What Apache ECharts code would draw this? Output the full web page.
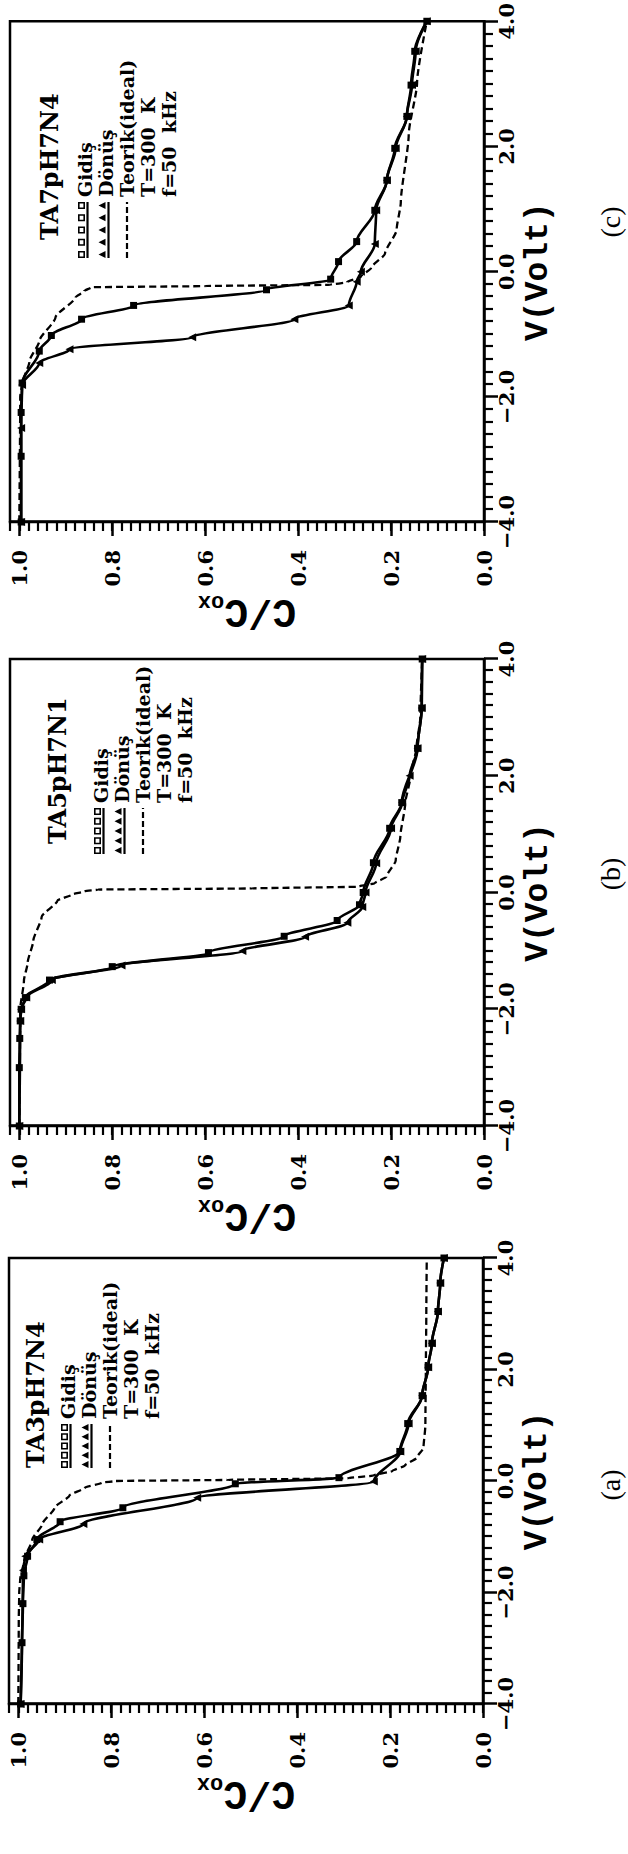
<!DOCTYPE html>
<html><head><meta charset="utf-8">
<script src="https://cdn.jsdelivr.net/npm/echarts@6/dist/echarts.min.js"></script>
<style>
html,body{margin:0;padding:0;background:#fff;overflow:hidden;width:628px;height:1854px;}
#wrap{position:absolute;left:0;top:0;width:1854px;height:628px;transform-origin:0 0;transform:translate(0,1854px) rotate(-90deg);}
#chart{width:1854px;height:628px;}
</style></head><body>
<div id="wrap"><div id="chart"></div></div>
<script>
// ---------------- data ----------------
const panelNames = ['TA3pH7N4', 'TA5pH7N1', 'TA7pH7N4'];
const panelTags = ['(a)', '(b)', '(c)'];
const seriesNames = ['Gidiş', 'Dönüş', 'Teorik(ideal)'];
const infoLines = ['T=300\u00a0 K', 'f=50\u00a0 kHz'];
const cTicks = [0, 0.2, 0.4, 0.6, 0.8, 1.0];

// panel (a) TA3pH7N4
const aGidisV = [-4.0, -2.9, -2.2, -1.7, -1.35, -1.05, -0.73, -0.48, -0.05, 0.06, 0.53, 1.03, 1.53, 2.04, 2.47, 3.04, 3.55, 4.0];
const aGidisC = [0.995, 0.992, 0.99, 0.988, 0.98, 0.96, 0.91, 0.775, 0.533, 0.31, 0.179, 0.162, 0.131, 0.118, 0.11, 0.097, 0.092, 0.084];
const aDonusV = [-4.0, -1.6, -1.35, -1.05, -0.77, -0.30, -0.01, 0.53, 1.03, 1.53, 2.04, 2.47, 3.04, 3.55, 4.0];
const aDonusC = [0.995, 0.99, 0.985, 0.955, 0.86, 0.615, 0.235, 0.178, 0.16, 0.131, 0.118, 0.11, 0.097, 0.092, 0.084];
const aIdealV = [-4.0, -2.5, -2.0, -1.77, -1.41, -1.05, -0.77, -0.48, -0.26, -0.12, -0.03, 0.0, 0.02, 0.05, 0.1, 0.18, 0.28, 0.42, 0.6, 1.0, 2.0, 3.0, 4.0];
const aIdealC = [1.0, 0.999, 0.998, 0.996, 0.987, 0.97, 0.948, 0.922, 0.89, 0.857, 0.82, 0.79, 0.55, 0.29, 0.235, 0.195, 0.168, 0.142, 0.128, 0.124, 0.123, 0.122, 0.121];

// panel (b) TA5pH7N1
const bGidisV = [-4.0, -3.0, -2.5, -2.2, -2.0, -1.8, -1.5, -1.27, -1.03, -0.75, -0.48, -0.21, 0.0, 0.51, 1.1, 1.54, 2.47, 3.16, 4.0];
const bGidisC = [1.0, 1.0, 0.999, 0.998, 0.996, 0.987, 0.935, 0.80, 0.593, 0.43, 0.316, 0.268, 0.26, 0.238, 0.203, 0.177, 0.143, 0.134, 0.133];
const bDonusV = [-4.0, -2.2, -2.0, -1.8, -1.5, -1.25, -1.0, -0.76, -0.52, -0.25, 0.0, 0.5, 1.1, 1.54, 2.0, 2.47, 3.16, 4.0];
const bDonusC = [1.0, 0.998, 0.996, 0.985, 0.93, 0.78, 0.52, 0.385, 0.294, 0.262, 0.255, 0.232, 0.2, 0.176, 0.16, 0.143, 0.134, 0.133];
const bIdealV = [-4.0, -2.0, -1.51, -1.2, -0.83, -0.42, -0.14, -0.03, 0.02, 0.05, 0.07, 0.10, 0.16, 0.27, 0.55, 0.96, 1.5, 2.0, 2.5, 3.0, 4.0];
const bIdealC = [1.0, 0.998, 0.99, 0.982, 0.97, 0.952, 0.918, 0.885, 0.86, 0.83, 0.5, 0.27, 0.235, 0.21, 0.19, 0.18, 0.17, 0.158, 0.145, 0.137, 0.133];

// panel (c) TA7pH7N4
const cGidisV = [-4.0, -2.95, -2.25, -1.78, -1.27, -1.02, -0.76, -0.54, -0.29, -0.12, 0.16, 0.48, 0.98, 1.46, 1.97, 2.48, 2.98, 3.52, 4.0];
const cGidisC = [0.996, 0.996, 0.996, 0.994, 0.957, 0.931, 0.866, 0.754, 0.468, 0.33, 0.313, 0.274, 0.235, 0.209, 0.192, 0.166, 0.157, 0.149, 0.123];
const cDonusV = [-4.0, -2.5, -1.81, -1.46, -1.24, -1.05, -0.76, -0.54, -0.16, 0.0, 0.44, 0.98, 1.46, 1.97, 2.48, 2.98, 3.52, 4.0];
const cDonusC = [0.996, 0.996, 0.994, 0.957, 0.892, 0.628, 0.408, 0.291, 0.274, 0.265, 0.235, 0.232, 0.209, 0.19, 0.166, 0.155, 0.147, 0.123];
const cIdealV = [-4.0, -2.0, -1.8, -1.43, -1.11, -0.73, -0.41, -0.31, -0.25, -0.23, -0.21, -0.17, -0.08, 0.06, 0.29, 0.67, 1.11, 2.19, 3.02, 4.0];
const cIdealC = [1.0, 0.998, 0.994, 0.978, 0.957, 0.922, 0.879, 0.86, 0.845, 0.6, 0.33, 0.295, 0.265, 0.243, 0.213, 0.188, 0.179, 0.162, 0.144, 0.123];

const panels = [
  [[aGidisV, aGidisC], [aDonusV, aDonusC], [aIdealV, aIdealC]],
  [[bGidisV, bGidisC], [bDonusV, bDonusC], [bIdealV, bIdealC]],
  [[cGidisV, cGidisC], [cDonusV, cDonusC], [cIdealV, cIdealC]]
];

// ---------------- layout (landscape, rotated by CSS) ----------------
const grids = [
  {left: 150, top: 9, width: 446, height: 474},
  {left: 728, top: 10, width: 467, height: 474},
  {left: 1332, top: 10, width: 505, height: 474}
];
const legendPos = [
  {tX: 386, tY: 28, rowY: 68, iX: 386, iW: 44},
  {tX: 1010, tY: 50, rowY: 101, iX: 1000, iW: 46},
  {tX: 1614, tY: 42, rowY: 85, iX: 1596, iW: 56}
];
const cNameGap = [56, 50, 46];
const tagPos = [[369, 610], [980, 610], [1632, 610]];
const ROW = 21;

const zip = (xs, ys) => xs.map((x, i) => [x, ys[i]]);
const fmtV = v => (v < 0 ? '\u2212' : '') + Math.abs(v).toFixed(1);
const fmtC = v => {
  const k = v * 5;
  return (Math.abs(k - Math.round(k)) < 1e-6 && v < 1.001) ? Math.abs(v).toFixed(1) : '';
};

const labelFont = {fontFamily: 'DejaVu Serif', fontWeight: 'bold', fontSize: 21, color: '#000'};
const nameFont = {fontFamily: 'Liberation Mono', fontWeight: 'bold', fontSize: 33, color: '#000'};
const legFont = {fontFamily: 'DejaVu Serif', fontWeight: 'bold', fontSize: 19, fill: '#000'};

function legendSample(kind, x0, yc, w) {
  const els = [];
  const s = 7, n = 5, step = (w - s) / (n - 1);
  if (kind === 'dash') {
    els.push({type: 'line', silent: true, shape: {x1: x0, y1: yc, x2: x0 + w, y2: yc},
      style: {stroke: '#000', lineWidth: 2.2, lineDash: [6, 3]}});
    return els;
  }
  for (let k = 0; k < n; k++) {
    const x = x0 + k * step;
    if (kind === 'sq') {
      els.push({type: 'rect', silent: true, shape: {x: x + 0.8, y: yc - 6.2, width: 5.4, height: 5.4},
        style: {fill: '#fff', stroke: '#000', lineWidth: 1.6}});
    } else {
      els.push({type: 'polygon', silent: true, shape: {points: [[x, yc - 0.5], [x + 3.5, yc - 7.5], [x + 7, yc - 0.5]]},
        style: {fill: '#000'}});
    }
  }
  els.push({type: 'line', silent: true, shape: {x1: x0, y1: yc + 2.5, x2: x0 + w, y2: yc + 2.5},
    style: {stroke: '#000', lineWidth: 2.2}});
  return els;
}

const xAxis = [], yAxis = [], series = [], graphic = [];
for (let i = 0; i < 3; i++) {
  xAxis.push({
    gridIndex: i, type: 'value', min: -4, max: 4, interval: 2, position: 'bottom',
    name: 'V(Volt)', nameLocation: 'middle', nameGap: 30, nameTextStyle: nameFont,
    axisLine: {show: true, onZero: false, lineStyle: {color: '#000', width: 2.5}},
    axisTick: {show: true, inside: false, length: 14, lineStyle: {color: '#000', width: 2.5}},
    minorTick: {show: true, splitNumber: 10, length: 9, lineStyle: {color: '#000', width: 2.2}},
    axisLabel: Object.assign({margin: 12, formatter: fmtV}, labelFont),
    splitLine: {show: false}, minorSplitLine: {show: false}
  });
  yAxis.push({
    gridIndex: i, type: 'value', min: 0, max: 1.02, interval: 0.02, position: 'left',
    name: '{a|C/C}{b|ox}', nameLocation: 'middle', nameGap: cNameGap[i], nameRotate: 90,
    nameTextStyle: {color: '#000', rich: {
      a: {fontFamily: 'Liberation Mono', fontWeight: 'bold', fontSize: 40, color: '#000'},
      b: {fontFamily: 'Liberation Mono', fontWeight: 'bold', fontSize: 22, color: '#000', verticalAlign: 'bottom', padding: [12, 0, 0, 0]}
    }},
    axisLine: {show: true, onZero: false, lineStyle: {color: '#000', width: 2.5}},
    axisTick: {show: true, inside: false, length: 9, lineStyle: {color: '#000', width: 2.2}},
    axisLabel: Object.assign({interval: 0, margin: 28, formatter: fmtC}, labelFont),
    splitLine: {show: false}
  });
  yAxis.push({
    gridIndex: i, type: 'value', min: 0, max: 1.02, interval: 0.2, position: 'left',
    axisLine: {show: false, onZero: false},
    axisTick: {show: true, inside: false, length: 14, customValues: cTicks, lineStyle: {color: '#000', width: 2.5}},
    axisLabel: {show: false}, splitLine: {show: false}
  });
  const [g, d, t] = panels[i];
  series.push({
    name: seriesNames[0], type: 'line', xAxisIndex: i, yAxisIndex: 2 * i,
    data: zip(g[0], g[1]), symbol: 'rect', symbolSize: 7, smooth: 0.3, smoothMonotone: 'x',
    lineStyle: {color: '#000', width: 2.6}, itemStyle: {color: '#000'}, silent: true, z: 3
  });
  series.push({
    name: seriesNames[1], type: 'line', xAxisIndex: i, yAxisIndex: 2 * i,
    data: zip(d[0], d[1]), symbol: 'triangle', symbolSize: 8, smooth: 0.3, smoothMonotone: 'x',
    lineStyle: {color: '#000', width: 2.6}, itemStyle: {color: '#000'}, silent: true, z: 3
  });
  series.push({
    name: seriesNames[2], type: 'line', xAxisIndex: i, yAxisIndex: 2 * i,
    data: zip(t[0], t[1]), showSymbol: false, symbol: 'none', smooth: 0.2, smoothMonotone: 'x',
    lineStyle: {color: '#000', width: 2.3, type: [7, 4]}, itemStyle: {color: '#000'}, silent: true, z: 2
  });

  // legend block (title, samples, texts)
  const lp = legendPos[i];
  graphic.push({type: 'text', x: lp.tX, y: lp.tY - 5, silent: true,
    style: {text: panelNames[i], fontFamily: 'DejaVu Serif', fontWeight: 'bold', fontSize: 24, fill: '#000', align: 'left', verticalAlign: 'top'}});
  const kinds = ['sq', 'tri', 'dash'];
  const textX = lp.iX + lp.iW + 5;
  for (let r = 0; r < 3; r++) {
    const yc = lp.rowY + r * ROW;
    legendSample(kinds[r], lp.iX, yc, lp.iW).forEach(e => graphic.push(e));
    graphic.push({type: 'text', x: textX, y: yc, silent: true,
      style: Object.assign({text: seriesNames[r], align: 'left', verticalAlign: 'middle'}, legFont)});
  }
  for (let r = 0; r < 2; r++) {
    graphic.push({type: 'text', x: textX, y: lp.rowY + (3 + r) * ROW, silent: true,
      style: Object.assign({text: infoLines[r], align: 'left', verticalAlign: 'middle'}, legFont)});
  }
  graphic.push({
    type: 'text', x: tagPos[i][0], y: tagPos[i][1], silent: true,
    style: {text: panelTags[i], fontFamily: 'Liberation Serif', fontSize: 28, fill: '#000', align: 'center', verticalAlign: 'middle'}
  });
}

const chart = echarts.init(document.getElementById('chart'), null, {renderer: 'svg', width: 1854, height: 628});
chart.setOption({
  animation: false,
  backgroundColor: '#fff',
  grid: grids.map(g => Object.assign({show: true, borderColor: '#000', borderWidth: 2.5, containLabel: false}, g)),
  xAxis, yAxis, series, graphic
});
</script>
</body></html>
